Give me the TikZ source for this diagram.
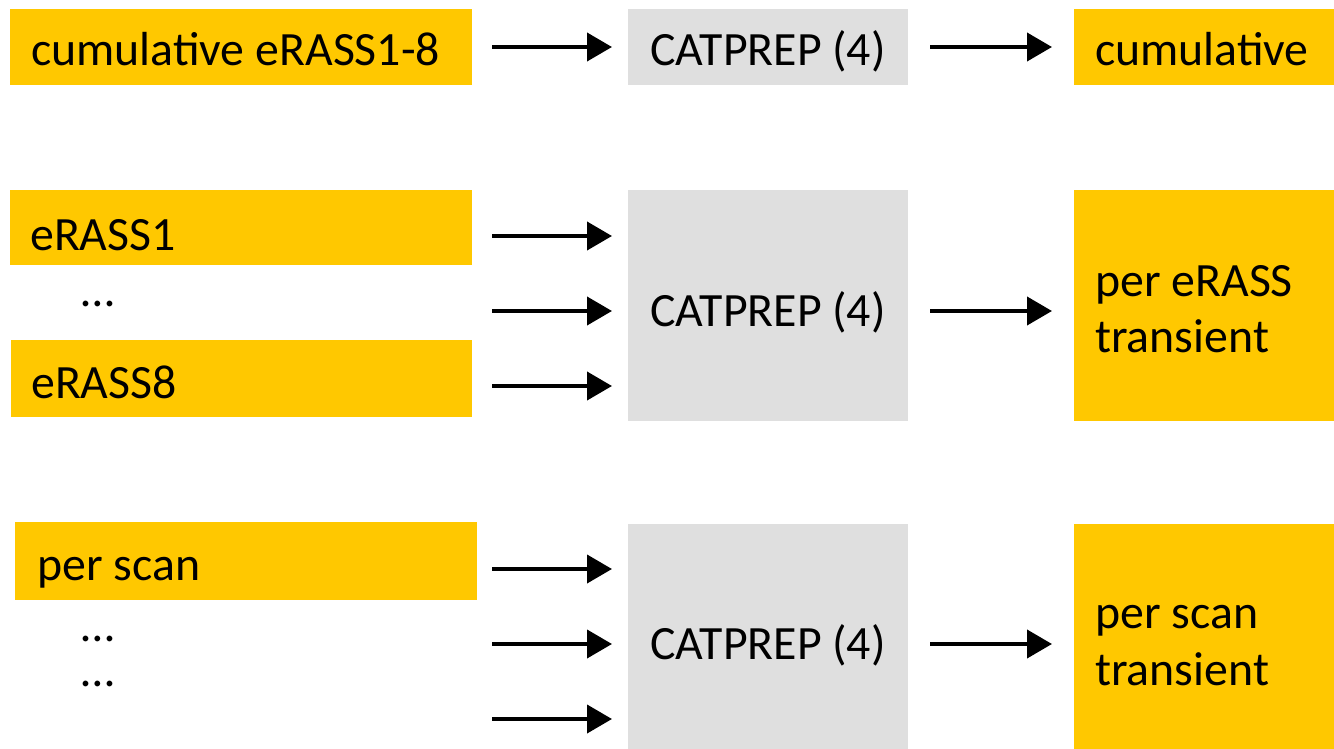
\documentclass[tikz,border=0pt]{standalone}
\usepackage{fontspec}
\setmainfont{Carlito}
\usetikzlibrary{arrows.meta}
\definecolor{boxyellow}{RGB}{255,200,0}
\definecolor{boxgray}{RGB}{223,223,223}
\tikzset{
  ybox/.style={fill=boxyellow, draw=none, inner sep=0pt, anchor=north west},
  gbox/.style={fill=boxgray, draw=none, inner sep=0pt, anchor=north west},
  lbl/.style={font=\fontsize{47.8}{57}\selectfont, inner sep=0pt, anchor=base west, align=left},
  clbl/.style={font=\fontsize{47.8}{57}\selectfont, inner sep=0pt, anchor=base},
  arr/.style={line width=4pt, -{Triangle[length=25pt,width=28pt]}}
}
\begin{document}
\begin{tikzpicture}[x=1pt,y=-1pt]
\useasboundingbox (0,0) rectangle (1334,749);
% row 1
\node[ybox, minimum width=462pt, minimum height=76pt] (y1) at (10,9) {};
\node[gbox, minimum width=280pt, minimum height=76pt] (g1) at (628,9) {};
\node[ybox, minimum width=260pt, minimum height=76pt] (o1) at (1074,9) {};
\node[lbl] (t1) at (31,66) {cumulative eRASS1-8};
\node[clbl] (tg1) at (768,66) {CATPREP (4)};
\node[lbl] (to1) at (1095,66) {cumulative};
% row 2
\node[ybox, minimum width=462pt, minimum height=75pt] (y2a) at (10,190) {};
\node[ybox, minimum width=461pt, minimum height=77pt] (y2b) at (11,340) {};
\node[gbox, minimum width=280pt, minimum height=231pt] (g2) at (628,190) {};
\node[ybox, minimum width=260pt, minimum height=231pt] (o2) at (1074,190) {};
\node[lbl] (t2a) at (30,250) {eRASS1};
\node[lbl] (t2d) at (81,306) {…};
\node[lbl] (t2b) at (31,398) {eRASS8};
\node[clbl] (tg2) at (768,326) {CATPREP (4)};
\node[lbl] (to2a) at (1095,296) {per eRASS};
\node[lbl] (to2b) at (1095,352) {transient};
% row 3
\node[ybox, minimum width=462pt, minimum height=78pt] (y3) at (15,522) {};
\node[gbox, minimum width=280pt, minimum height=225pt] (g3) at (628,524) {};
\node[ybox, minimum width=260pt, minimum height=225pt] (o3) at (1074,524) {};
\node[lbl] (t3) at (37,580) {per scan};
\node[lbl] (t3d1) at (81,641) {…};
\node[lbl] (t3d2) at (81,686) {…};
\node[clbl] (tg3) at (768,659) {CATPREP (4)};
\node[lbl] (to3a) at (1095,628) {per scan};
\node[lbl] (to3b) at (1095,685) {transient};
% arrow end points
\coordinate (s11) at (492,47);  \coordinate (e11) at (612,47);
\coordinate (s12) at (930,47);  \coordinate (e12) at (1052,47);
\coordinate (s21) at (492,236); \coordinate (e21) at (612,236);
\coordinate (s22) at (492,311); \coordinate (e22) at (612,311);
\coordinate (s23) at (492,386); \coordinate (e23) at (612,386);
\coordinate (s24) at (930,311); \coordinate (e24) at (1052,311);
\coordinate (s31) at (492,569); \coordinate (e31) at (612,569);
\coordinate (s32) at (492,644); \coordinate (e32) at (612,644);
\coordinate (s33) at (492,719); \coordinate (e33) at (612,719);
\coordinate (s34) at (930,644); \coordinate (e34) at (1052,644);
\foreach \a in {11,12,21,22,23,24,31,32,33,34}
  \draw[arr] (s\a) -- (e\a);
\end{tikzpicture}
\end{document}
